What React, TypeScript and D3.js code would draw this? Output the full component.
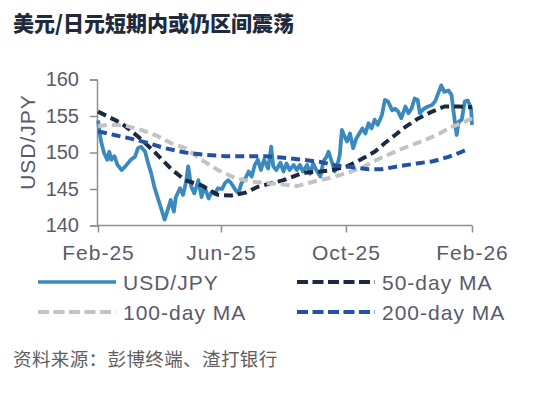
import React, { useEffect, useRef } from "react";
import * as d3 from "d3";

const title = "美元/日元短期内或仍区间震荡";
const source = "资料来源：彭博终端、渣打银行";
const yTicks = [140, 145, 150, 155, 160];
const xTicks = ["2025-02-01", "2025-06-01", "2025-10-01", "2026-02-01"];

const usdJpy: [string, number][] = [
  ["2025-02-01", 154.4], ["2025-02-03", 152.4], ["2025-02-04", 151.5], ["2025-02-07", 149.9],
  ["2025-02-10", 149.0], ["2025-02-12", 150.1], ["2025-02-14", 149.0], ["2025-02-17", 149.5],
  ["2025-02-20", 148.3], ["2025-02-24", 147.6], ["2025-02-27", 148.0], ["2025-03-02", 148.5],
  ["2025-03-05", 149.0], ["2025-03-09", 149.4], ["2025-03-12", 150.6], ["2025-03-15", 150.8],
  ["2025-03-19", 150.1], ["2025-03-22", 148.5], ["2025-03-25", 147.1], ["2025-03-28", 145.3],
  ["2025-04-01", 143.5], ["2025-04-03", 142.6], ["2025-04-07", 140.8], ["2025-04-10", 142.1],
  ["2025-04-13", 143.5], ["2025-04-16", 141.9], ["2025-04-18", 143.9], ["2025-04-22", 145.1],
  ["2025-04-25", 144.2], ["2025-04-28", 146.0], ["2025-04-30", 148.1], ["2025-05-03", 145.3],
  ["2025-05-06", 144.4], ["2025-05-10", 146.2], ["2025-05-13", 143.9], ["2025-05-16", 145.3],
  ["2025-05-20", 143.7], ["2025-05-23", 144.6], ["2025-05-26", 144.3], ["2025-05-29", 145.1],
  ["2025-06-02", 145.0], ["2025-06-05", 145.8], ["2025-06-08", 146.2], ["2025-06-11", 145.8],
  ["2025-06-15", 144.9], ["2025-06-18", 144.4], ["2025-06-21", 145.8], ["2025-06-25", 146.5],
  ["2025-06-28", 147.4], ["2025-07-01", 146.7], ["2025-07-04", 148.3], ["2025-07-07", 149.0],
  ["2025-07-10", 147.6], ["2025-07-13", 149.0], ["2025-07-17", 147.8], ["2025-07-20", 150.8],
  ["2025-07-22", 148.1], ["2025-07-25", 147.6], ["2025-07-29", 148.6], ["2025-08-01", 147.4],
  ["2025-08-04", 148.5], ["2025-08-07", 147.6], ["2025-08-11", 148.3], ["2025-08-14", 147.6],
  ["2025-08-17", 148.3], ["2025-08-20", 147.4], ["2025-08-24", 148.3], ["2025-08-27", 147.1],
  ["2025-08-30", 148.5], ["2025-09-02", 147.6], ["2025-09-06", 146.7], ["2025-09-09", 148.8],
  ["2025-09-12", 149.4], ["2025-09-14", 150.1], ["2025-09-17", 148.8], ["2025-09-20", 147.4],
  ["2025-09-23", 148.5], ["2025-09-25", 149.7], ["2025-09-27", 153.1], ["2025-09-29", 152.4],
  ["2025-10-02", 151.5], ["2025-10-05", 152.6], ["2025-10-08", 150.6], ["2025-10-11", 151.9],
  ["2025-10-14", 152.6], ["2025-10-17", 153.3], ["2025-10-20", 152.6], ["2025-10-23", 154.0],
  ["2025-10-26", 153.3], ["2025-10-29", 154.5], ["2025-11-01", 153.8], ["2025-11-05", 155.1],
  ["2025-11-08", 157.2], ["2025-11-11", 157.0], ["2025-11-15", 155.8], ["2025-11-18", 156.0],
  ["2025-11-21", 155.6], ["2025-11-24", 154.7], ["2025-11-28", 156.3], ["2025-12-01", 155.4],
  ["2025-12-04", 156.0], ["2025-12-07", 157.4], ["2025-12-10", 157.2], ["2025-12-12", 155.4],
  ["2025-12-16", 156.0], ["2025-12-20", 156.3], ["2025-12-24", 156.5], ["2025-12-27", 157.0],
  ["2025-12-30", 158.1], ["2026-01-02", 159.2], ["2026-01-05", 158.3], ["2026-01-09", 158.5],
  ["2026-01-12", 157.9], ["2026-01-14", 155.6], ["2026-01-17", 152.4], ["2026-01-19", 154.2],
  ["2026-01-22", 154.5], ["2026-01-25", 157.0], ["2026-01-28", 157.1], ["2026-01-31", 156.1],
  ["2026-02-01", 153.8],
];

const ma50: [string, number][] = [
  ["2025-02-01", 155.6], ["2025-02-24", 154.0], ["2025-03-12", 152.2], ["2025-03-28", 150.1],
  ["2025-04-13", 147.8], ["2025-04-27", 146.2], ["2025-05-13", 145.5], ["2025-05-29", 144.2],
  ["2025-06-11", 144.1], ["2025-06-25", 144.5], ["2025-07-07", 145.3], ["2025-07-20", 145.8],
  ["2025-08-01", 146.2], ["2025-08-20", 147.2], ["2025-09-06", 147.4], ["2025-09-18", 147.6],
  ["2025-10-02", 148.1], ["2025-10-15", 149.0], ["2025-10-29", 150.1], ["2025-11-08", 151.3],
  ["2025-11-18", 152.4], ["2025-11-28", 153.5], ["2025-12-11", 154.7], ["2025-12-24", 155.6],
  ["2026-01-05", 156.3], ["2026-01-19", 156.3], ["2026-02-01", 156.2],
];

const ma100: [string, number][] = [
  ["2025-02-01", 153.6], ["2025-02-11", 153.8], ["2025-02-27", 153.7], ["2025-03-15", 153.1],
  ["2025-04-01", 152.2], ["2025-04-13", 151.3], ["2025-04-27", 150.6], ["2025-05-13", 149.0],
  ["2025-05-29", 147.6], ["2025-06-15", 146.5], ["2025-07-01", 146.0], ["2025-07-17", 145.8],
  ["2025-08-01", 145.6], ["2025-08-14", 145.4], ["2025-08-30", 146.0], ["2025-09-15", 146.5],
  ["2025-10-02", 147.2], ["2025-10-18", 148.0], ["2025-10-31", 149.0], ["2025-11-08", 149.5],
  ["2025-11-21", 150.3], ["2025-12-04", 151.0], ["2025-12-17", 151.7], ["2025-12-30", 152.5],
  ["2026-01-12", 153.5], ["2026-01-22", 154.0], ["2026-02-01", 154.7],
];

const ma200: [string, number][] = [
  ["2025-02-01", 152.9], ["2025-02-17", 152.4], ["2025-03-05", 151.9], ["2025-03-22", 151.3],
  ["2025-04-07", 150.6], ["2025-04-27", 150.0], ["2025-05-16", 149.7], ["2025-06-05", 149.5],
  ["2025-06-25", 149.5], ["2025-07-14", 149.5], ["2025-07-30", 149.3], ["2025-08-20", 149.0],
  ["2025-09-06", 148.7], ["2025-09-22", 148.2], ["2025-10-06", 148.0], ["2025-10-23", 147.7],
  ["2025-11-05", 147.7], ["2025-11-21", 148.1], ["2025-12-09", 148.5], ["2025-12-25", 148.8],
  ["2026-01-09", 149.4], ["2026-01-22", 150.1], ["2026-01-27", 150.4],
];

const series = [
  { name: "USD/JPY", data: usdJpy, color: "#3a8ac0", dash: null, width: 3.8 },
  { name: "50-day MA", data: ma50, color: "#1b2a40", dash: "9,5", width: 4 },
  { name: "100-day MA", data: ma100, color: "#c3c3c3", dash: "9,5", width: 4 },
  { name: "200-day MA", data: ma200, color: "#2352a5", dash: "9,5", width: 4 },
];

const latin = "'Liberation Sans', Arial, sans-serif";
const cjk = "'Noto Sans CJK SC', sans-serif";
const textColor = "#5a5a6a";

const App = () => {
  const svgRef = useRef<SVGSVGElement>(null);

  useEffect(() => {
    const svg = d3.select(svgRef.current);
    svg.selectAll("*").remove();

    const parse = d3.timeParse("%Y-%m-%d");

    const x = d3
      .scaleTime()
      .domain([parse("2025-02-01")!, parse("2026-02-01")!])
      .range([98, 472]);

    const y = d3.scaleLinear().domain([140, 160]).range([225.5, 79.5]);

    svg.append("rect").attr("width", 546).attr("height", 396).attr("fill", "#fff");

    // Title
    svg
      .append("text")
      .attr("x", 13)
      .attr("y", 31)
      .attr("font-family", cjk)
      .attr("font-weight", 900)
      .attr("font-size", 21)
      .attr("fill", "#1f2b3c")
      .text(title);

    // Y axis
    const yAxis = svg
      .append("g")
      .attr("transform", "translate(97,0)")
      .call(d3.axisLeft(y).tickValues(yTicks).tickSize(7).tickPadding(11));
    yAxis.select(".domain").attr("stroke", "#8f8f8f").attr("stroke-width", 1.5);
    yAxis.selectAll(".tick line").attr("stroke", "#8f8f8f").attr("stroke-width", 1.5);
    yAxis
      .selectAll(".tick text")
      .attr("font-family", latin)
      .attr("font-size", 20)
      .attr("fill", textColor);

    // X axis
    const xAxis = svg
      .append("g")
      .attr("transform", "translate(0,225.5)")
      .call(
        d3
          .axisBottom(x)
          .tickValues(xTicks.map((d) => parse(d)!))
          .tickSize(7)
          .tickPadding(13)
          .tickFormat(d3.timeFormat("%b-%y") as any)
      );
    xAxis.select(".domain").attr("d", "M97,0H472").attr("stroke", "#8f8f8f").attr("stroke-width", 1.5);
    xAxis.selectAll(".tick line").attr("stroke", "#8f8f8f").attr("stroke-width", 1.5);
    xAxis
      .selectAll(".tick text")
      .attr("font-family", latin)
      .attr("font-size", 21)
      .attr("letter-spacing", 1)
      .attr("fill", textColor);

    // Y axis title
    svg
      .append("text")
      .attr("transform", "translate(35,142) rotate(-90)")
      .attr("text-anchor", "middle")
      .attr("font-family", latin)
      .attr("font-size", 21)
      .attr("letter-spacing", 1)
      .attr("fill", textColor)
      .text("USD/JPY");

    // Lines
    const line = d3
      .line<[string, number]>()
      .x((d) => x(parse(d[0])!))
      .y((d) => y(d[1]));

    series.forEach((s) => {
      svg
        .append("path")
        .datum(s.data)
        .attr("d", line)
        .attr("fill", "none")
        .attr("stroke", s.color)
        .attr("stroke-width", s.width)
        .attr("stroke-dasharray", s.dash)
        .attr("stroke-linejoin", "round");
    });

    // Legend
    const legendPos = [
      { lx: 38, ly: 282 },
      { lx: 297, ly: 282 },
      { lx: 38, ly: 312 },
      { lx: 297, ly: 312 },
    ];
    const legend = svg
      .selectAll(".legend-item")
      .data(series)
      .enter()
      .append("g")
      .attr("class", "legend-item")
      .attr("transform", (d, i) => `translate(${legendPos[i].lx},${legendPos[i].ly})`);

    legend
      .append("line")
      .attr("x1", 0)
      .attr("x2", 78)
      .attr("stroke", (d) => d.color)
      .attr("stroke-width", (d) => (d.dash ? 4 : 3.5))
      .attr("stroke-dasharray", (d) => (d.dash ? "11,4.5" : null));

    legend
      .append("text")
      .attr("x", 85)
      .attr("y", 8)
      .attr("font-family", latin)
      .attr("font-size", 21)
      .attr("letter-spacing", 1)
      .attr("fill", textColor)
      .text((d) => d.name);

    // Source
    svg
      .append("text")
      .attr("x", 13)
      .attr("y", 366)
      .attr("font-family", cjk)
      .attr("font-size", 18.5)
      .attr("letter-spacing", 0.4)
      .attr("fill", "#606060")
      .text(source);
  }, []);

  return (
    <svg
      ref={svgRef}
      width={546}
      height={396}
      style={{ position: "absolute", left: 0, top: 0 }}
    ></svg>
  );
};

export default App;
